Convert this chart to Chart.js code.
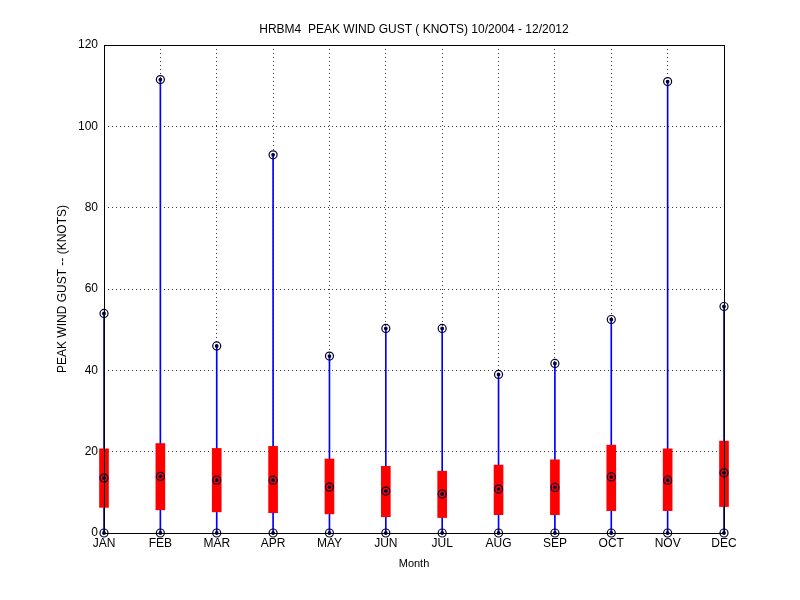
<!DOCTYPE html>
<html><head><script src="https://cdn.jsdelivr.net/npm/chart.js@4"></script>
<style>html,body{margin:0;background:#fff}#w{width:800px;height:600px}</style></head>
<body><div id="w"><canvas id="c"></canvas></div>
<script>
const months=['JAN','FEB','MAR','APR','MAY','JUN','JUL','AUG','SEP','OCT','NOV','DEC'];
const maxV=[54,111.5,46,93,43.5,50.3,50.3,39,41.7,52.5,111,55.7];
const q1=[6.3,5.7,5.2,5,4.7,4,3.8,4.5,4.5,5.5,5.5,6.5];
const q3=[20.7,22,20.8,21.3,18.2,16.4,15.2,16.7,18,21.6,20.7,22.6];
const med=[13.5,13.9,13,13,11.3,10.3,9.6,10.8,11.2,13.8,13,14.8];
const minV=[0,0,0,0,0,0,0,0,0,0,0,0];
const F='Arial, "Liberation Sans", sans-serif';
const pts=(arr,r,bg)=>({type:'line',data:arr,showLine:false,clip:false,pointRadius:r,pointBorderColor:'#000033',pointBackgroundColor:bg,pointBorderWidth:1.2,pointHoverRadius:r});
const frame={id:'frame',afterDraw(c){const a=c.chartArea,x=c.ctx;x.save();x.strokeStyle='#000';x.lineWidth=1;x.strokeRect(a.left+0.5,a.top+0.5,a.right-a.left,a.bottom-a.top);
x.fillStyle='#000';x.font='12px '+F;x.textAlign='center';x.fillText('HRBM4  PEAK WIND GUST ( KNOTS) 10/2004 - 12/2012',(a.left+a.right)/2,33);
x.font='11px '+F;x.fillText('Month',(a.left+a.right)/2,567);
x.font='12px '+F;x.translate(66,(a.top+a.bottom)/2);x.rotate(-Math.PI/2);x.fillText('PEAK WIND GUST -- (KNOTS)',0,0);x.restore();}};
new Chart(document.getElementById('c'),{type:'bar',data:{labels:months,datasets:[
{data:months.map((m,i)=>[minV[i],maxV[i]]),backgroundColor:'#0000ff',barThickness:1,grouped:false,clip:false,order:3},
{data:months.map((m,i)=>[q1[i],q3[i]]),backgroundColor:'#ff0000',barThickness:9,grouped:false,clip:false,order:2},
pts(maxV,4,'rgba(0,0,0,0)'),pts(med,4,'rgba(0,0,0,0)'),pts(minV,4,'rgba(0,0,0,0)'),
pts(maxV,1.3,'#000033'),pts(med,1.3,'#000033'),pts(minV,1.3,'#000033')]},
options:{responsive:true,maintainAspectRatio:false,animation:false,layout:{padding:{top:45,right:76,left:0,bottom:0}},
plugins:{legend:{display:false},tooltip:{enabled:false}},
scales:{x:{offset:false,afterFit(s){s.height=67;},grid:{offset:false,color:'#000',lineWidth:0.8,tickLength:0,drawTicks:false},border:{display:false,dash:[1,3]},
ticks:{color:'#000',font:{size:12,family:F},padding:3,maxRotation:0,autoSkip:false}},
y:{min:0,max:120,afterFit(s){s.width=104;},grid:{color:'#000',lineWidth:0.8,drawTicks:false},border:{display:false,dash:[1,3]},
ticks:{stepSize:20,color:'#000',font:{size:12,family:F},padding:6}}}},
plugins:[frame]});
</script></body></html>
